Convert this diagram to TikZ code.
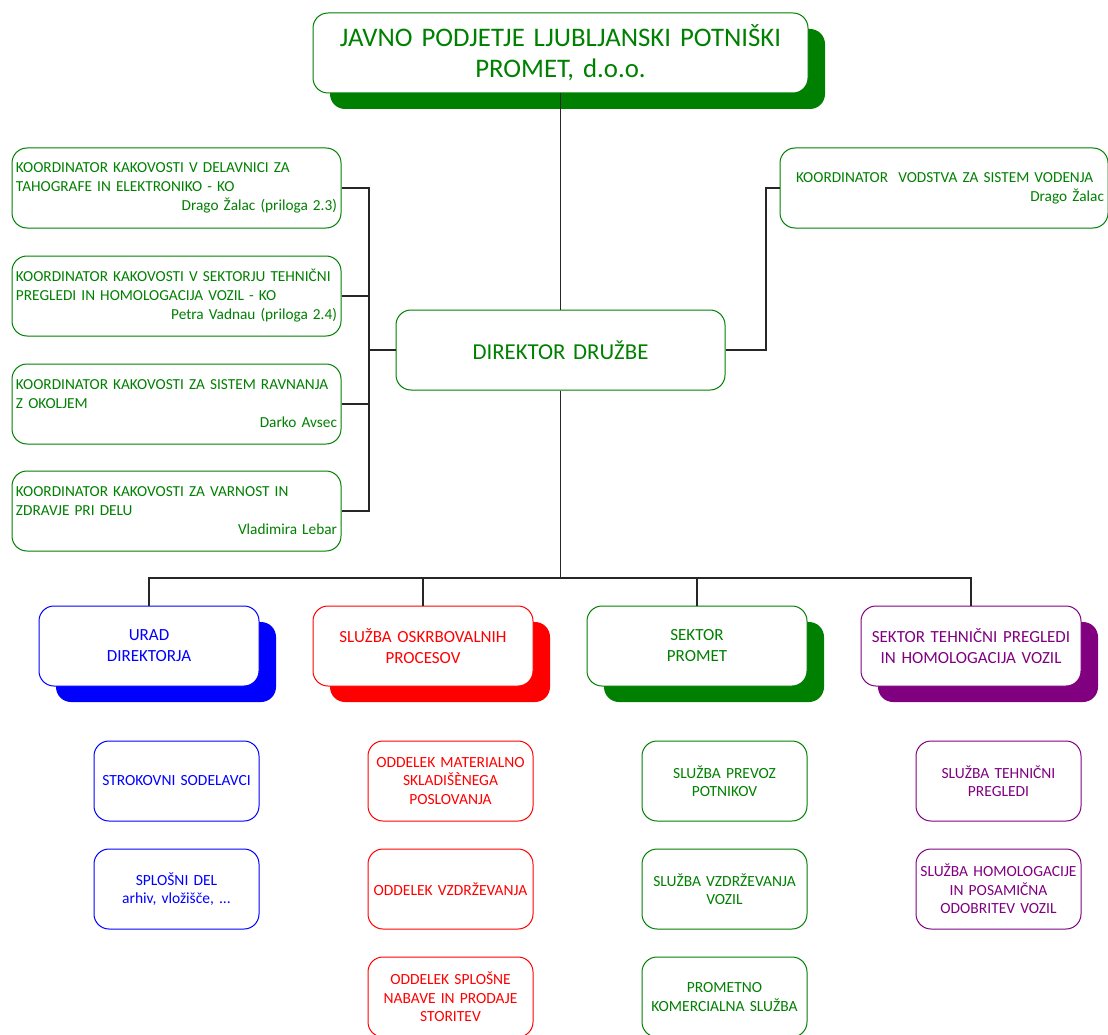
\documentclass[tikz,border=0pt]{standalone}
\usepackage{fontspec}
\setmainfont{Carlito}
\usetikzlibrary{shadows}
\definecolor{lppgreen}{RGB}{0,128,0}
\definecolor{lppblue}{RGB}{0,0,255}
\definecolor{lppred}{RGB}{255,0,0}
\definecolor{lpppurple}{RGB}{128,0,128}
\begin{document}
\begin{tikzpicture}[x=1pt,y=-1pt,
    box/.style={draw=#1,text=#1,rounded corners=15pt,fill=white,line width=1pt,
                minimum height=80pt,inner sep=4pt,align=center},
    shadowbox/.style={box=#1,drop shadow={shadow xshift=17pt,shadow yshift=-16pt,fill=#1,opacity=1}},
    kobox/.style={box=lppgreen,text width=321pt,align=left,
                  font={\fontsize{15.3}{19}\selectfont}},
    subbox/.style={box=#1,minimum width=165pt,text width=157pt,
                   font={\fontsize{15.5}{18.5}\selectfont}},
    deptbox/.style={shadowbox=#1,minimum width=220pt,text width=212pt,
                    font={\fontsize{17}{21}\selectfont}},
    link/.style={draw=black!85,line width=1.1pt}]
    \useasboundingbox (0,0) rectangle (1108,1035);
    % vodstvo
    \node[shadowbox=lppgreen,minimum width=495pt,text width=487pt,
          font={\fontsize{26.8}{31}\selectfont}] (lpp) at (560.5,53)
        {JAVNO PODJETJE LJUBLJANSKI POTNIŠKI\\PROMET, d.o.o.};
    \node[box=lppgreen,minimum width=329pt,text width=321pt,
          font={\fontsize{22.8}{26}\selectfont}] (direktor) at (560.5,350) {DIREKTOR DRUŽBE};
    % koordinatorji
    \node[kobox] (ko1) at (176.5,188)
        {KOORDINATOR KAKOVOSTI V DELAVNICI ZA\\TAHOGRAFE IN ELEKTRONIKO - KO\\\hfill Drago Žalac (priloga 2.3)};
    \node[kobox] (ko2) at (176.5,296)
        {KOORDINATOR KAKOVOSTI V SEKTORJU TEHNIČNI\\PREGLEDI IN HOMOLOGACIJA VOZIL - KO\\\hfill Petra Vadnau (priloga 2.4)};
    \node[kobox] (ko3) at (176.5,404)
        {KOORDINATOR KAKOVOSTI ZA SISTEM RAVNANJA\\Z OKOLJEM\\\hfill Darko Avsec};
    \node[kobox] (ko4) at (176.5,511)
        {KOORDINATOR KAKOVOSTI ZA VARNOST IN\\ZDRAVJE PRI DELU\\\hfill Vladimira Lebar};
    \node[kobox,text width=320pt] (kovodstvo) at (944,188)
        {\hspace*{12pt}KOORDINATOR\ \ VODSTVA ZA SISTEM VODENJA\\\hfill Drago Žalac};
    % sektorji in sluzbe
    \node[deptbox=lppblue] (urad) at (149,646) {URAD\\DIREKTORJA};
    \node[deptbox=lppred] (oskrba) at (423,646) {SLUŽBA OSKRBOVALNIH\\PROCESOV};
    \node[deptbox=lppgreen] (promet) at (697,646) {SEKTOR\\PROMET};
    \node[deptbox=lpppurple] (tehnicni) at (971,646) {SEKTOR TEHNIČNI PREGLEDI\\IN HOMOLOGACIJA VOZIL};
    % oddelki
    \node[subbox=lppblue] (strokovni) at (176.5,781) {STROKOVNI SODELAVCI};
    \node[subbox=lppblue] (splosni) at (176.5,889) {SPLOŠNI DEL\\arhiv, vložišče, ...};
    \node[subbox=lppred] (material) at (450.5,781) {ODDELEK MATERIALNO\\SKLADIŠÈNEGA\\POSLOVANJA};
    \node[subbox=lppred] (vzdrzevanje) at (450.5,889) {ODDELEK VZDRŽEVANJA};
    \node[subbox=lppred] (nabava) at (450.5,997) {ODDELEK SPLOŠNE\\NABAVE IN PRODAJE\\STORITEV};
    \node[subbox=lppgreen] (prevoz) at (724.5,781) {SLUŽBA PREVOZ\\POTNIKOV};
    \node[subbox=lppgreen] (vozila) at (724.5,889) {SLUŽBA VZDRŽEVANJA\\VOZIL};
    \node[subbox=lppgreen] (komerciala) at (724.5,997) {PROMETNO\\KOMERCIALNA SLUŽBA};
    \node[subbox=lpppurple] (pregledi) at (998.5,781) {SLUŽBA TEHNIČNI\\PREGLEDI};
    \node[subbox=lpppurple] (homologacija) at (998.5,889) {SLUŽBA HOMOLOGACIJE\\IN POSAMIČNA\\ODOBRITEV VOZIL};
    % povezave
    \coordinate (levo) at (369,350);
    \coordinate (desno) at (766,350);
    \coordinate (vodilo) at (560.5,578);
    \draw[link] (lpp) -- (direktor);
    \draw[link] (direktor) -- (levo);
    \foreach \i in {1,...,4} {
        \draw[link] (ko\i.east) -| (levo);
    }
    \draw[link] (direktor) -- (desno) |- (kovodstvo.west);
    \draw[link] (direktor) -- (vodilo);
    \foreach \s in {urad,oskrba,promet,tehnicni} {
        \draw[link] (vodilo) -| (\s.north);
    }
\end{tikzpicture}
\end{document}
